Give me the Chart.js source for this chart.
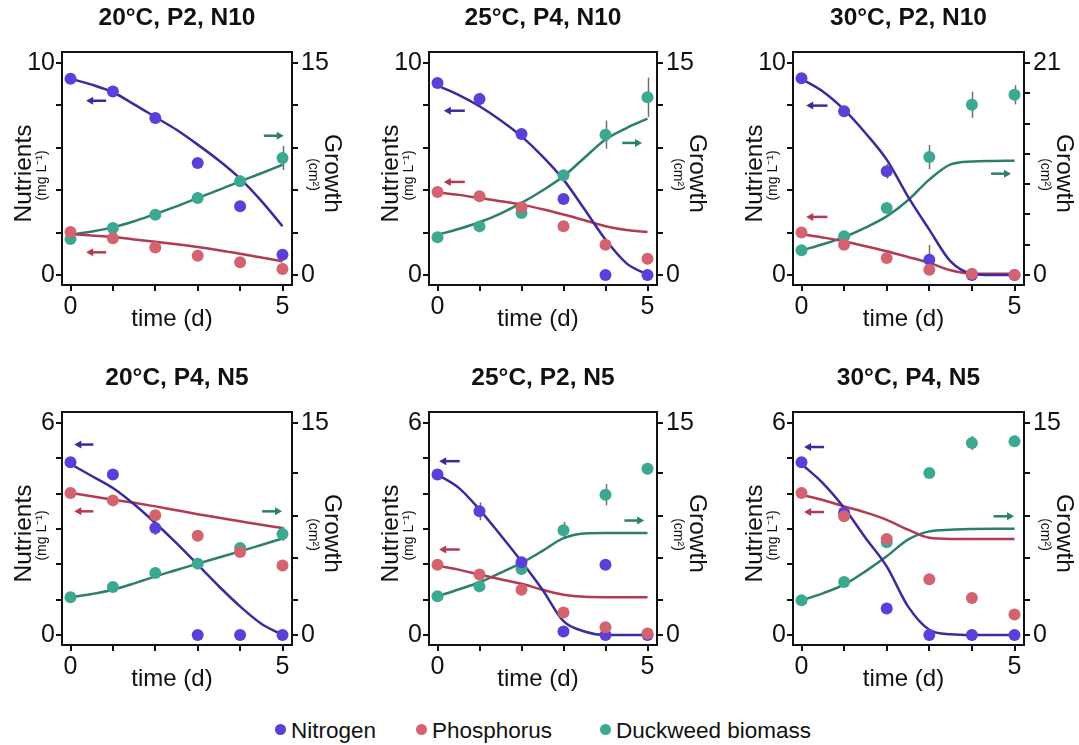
<!DOCTYPE html>
<html>
<head>
<meta charset="utf-8">
<script src="https://cdn.jsdelivr.net/npm/chart.js@4.4.1/dist/chart.umd.min.js"></script>
<style>
  body { margin: 0; background: #fff; width: 1079px; height: 745px; position: relative; overflow: hidden;
         font-family: "Liberation Sans", Arial, sans-serif; }
  .legend-item { position: absolute; top: 718px; font-size: 22.5px; line-height: 26px; color: #111; white-space: nowrap; }
  .legend-item i { display: inline-block; width: 11px; height: 11px; border-radius: 50%; margin-right: 5px; vertical-align: 3px; }
</style>
</head>
<body>
<div class="legend-item" style="left:275px"><i style="background:#5a3fd8"></i>Nitrogen</div>
<div class="legend-item" style="left:416px"><i style="background:#d3646f"></i>Phosphorus</div>
<div class="legend-item" style="left:600px"><i style="background:#3ba891"></i>Duckweed biomass</div>
<script>
// sampling days and fitted-curve days
const DAYS = [0, 1, 2, 3, 4, 5];
const FIT_DAYS = [0, 0.5, 1, 1.5, 2, 2.5, 3, 3.5, 4, 4.5, 5];

const TITLES = ['20°C, P2, N10', '25°C, P4, N10', '30°C, P2, N10',
                '20°C, P4, N5', '25°C, P2, N5', '30°C, P4, N5'];

// measured nutrients (mg/L), one row per panel
const nitrogen = [
  [9.26, 8.66, 7.41, 5.28, 3.24, 0.96],
  [9.06, 8.30, 6.65, 3.58, 0, 0],
  [9.28, 7.72, 4.89, 0.72, 0, 0],
  [4.89, 4.54, 3.03, 0, 0, 0],
  [4.54, 3.50, 2.06, 0.10, 0, 0],
  [4.89, 3.47, 0.75, 0, 0, 0]
];
const nitrogenErr = [
  [0, 0, 0, 0.15, 0, 0],
  [0, 0.3, 0, 0, 0, 0],
  [0, 0, 0.35, 0.7, 0, 0],
  [0, 0, 0.2, 0, 0, 0],
  [0, 0.25, 0, 0, 0, 0],
  [0, 0, 0, 0, 0, 0]
];
// extra replicate point [day, value]
const nitrogenExtra = [null, null, null, null, [4, 1.99], null];

const phosphorus = [
  [2.03, 1.73, 1.30, 0.91, 0.60, 0.28],
  [3.92, 3.71, 3.20, 2.30, 1.43, 0.77],
  [2.01, 1.43, 0.80, 0.25, 0.06, 0.0],
  [4.02, 3.81, 3.39, 2.81, 2.35, 1.97],
  [1.99, 1.71, 1.28, 0.64, 0.22, 0.04],
  [4.02, 3.36, 2.72, 1.58, 1.05, 0.58]
];
const phosphorusErr = [
  [0, 0, 0, 0, 0, 0],
  [0, 0, 0, 0, 0, 0],
  [0, 0, 0, 0.15, 0, 0],
  [0, 0, 0, 0, 0.1, 0.15],
  [0, 0, 0, 0, 0, 0],
  [0, 0, 0, 0, 0, 0]
];

// frond area (cm2)
const biomass = [
  [2.55, 3.33, 4.27, 5.45, 6.63, 8.28],
  [2.67, 3.44, 4.39, 7.05, 9.93, 12.57],
  [2.44, 3.83, 6.63, 11.68, 16.86, 17.85],
  [2.67, 3.40, 4.39, 5.05, 6.16, 7.15],
  [2.74, 3.44, 4.67, 7.41, 9.93, 11.77],
  [2.45, 3.75, 6.56, 11.46, 13.58, 13.70]
];
const biomassErr = [
  [0, 0, 0, 0.25, 0.4, 0.85],
  [0, 0, 0, 0, 1.0, 1.4],
  [0, 0, 0, 1.2, 1.3, 0.95],
  [0, 0, 0, 0, 0.4, 0.5],
  [0, 0, 0, 0.6, 0.75, 0.4],
  [0, 0, 0.3, 0, 0.5, 0.4]
];

// model fits, sampled on FIT_DAYS
const nitrogenFit = [
  [9.26, 8.98, 8.62, 8.05, 7.45, 6.85, 6.15, 5.40, 4.55, 3.50, 2.30],
  [8.93, 8.50, 7.96, 7.30, 6.54, 5.60, 4.50, 3.10, 1.67, 0.55, 0.02],
  [9.25, 8.66, 7.80, 6.70, 5.44, 3.70, 2.14, 0.64, 0.06, 0, 0],
  [4.84, 4.50, 4.16, 3.70, 3.17, 2.60, 1.99, 1.38, 0.81, 0.32, 0],
  [4.54, 4.17, 3.55, 2.83, 2.08, 1.28, 0.39, 0.10, 0, 0, 0],
  [4.84, 4.30, 3.60, 2.75, 1.94, 0.81, 0.15, 0.02, 0, 0, 0]
];
const phosphorusFit = [
  [1.93, 1.86, 1.79, 1.68, 1.57, 1.45, 1.32, 1.17, 1.00, 0.83, 0.64],
  [3.90, 3.78, 3.63, 3.48, 3.32, 3.10, 2.85, 2.58, 2.30, 2.12, 2.03],
  [1.93, 1.77, 1.59, 1.36, 1.12, 0.85, 0.57, 0.22, 0.06, 0.06, 0.06],
  [4.02, 3.93, 3.83, 3.74, 3.64, 3.53, 3.42, 3.32, 3.22, 3.12, 3.03],
  [1.96, 1.85, 1.71, 1.58, 1.45, 1.28, 1.14, 1.08, 1.07, 1.07, 1.07],
  [3.97, 3.82, 3.64, 3.47, 3.26, 2.98, 2.75, 2.72, 2.72, 2.72, 2.72]
];
const biomassFit = [
  [2.85, 3.08, 3.37, 3.80, 4.32, 4.85, 5.45, 6.02, 6.63, 7.20, 7.80],
  [2.85, 3.25, 3.73, 4.35, 5.10, 5.98, 6.98, 8.30, 9.58, 10.40, 11.06],
  [2.44, 3.05, 3.76, 4.70, 5.81, 7.40, 9.45, 10.95, 11.25, 11.30, 11.32],
  [2.67, 2.90, 3.20, 3.65, 4.15, 4.60, 5.05, 5.48, 5.92, 6.37, 6.82],
  [2.74, 3.22, 3.73, 4.40, 5.10, 5.95, 6.85, 7.19, 7.22, 7.22, 7.22],
  [2.45, 2.95, 3.56, 4.50, 5.57, 6.75, 7.33, 7.45, 7.50, 7.52, 7.52]
];

// axis ranges and tick values
const NUTRIENT_MAX = [10, 10, 10, 6, 6, 6];
const GROWTH_MAX = [15, 15, 21, 15, 15, 15];
const NUTRIENT_TICKS = [
  [0, 2, 4, 6, 8, 10], [0, 2, 4, 6, 8, 10], [0, 2, 4, 6, 8, 10],
  [0, 1, 2, 3, 4, 5, 6], [0, 1, 2, 3, 4, 5, 6], [0, 1, 2, 3, 4, 5, 6]
];
const GROWTH_TICKS = [
  [0, 3, 6, 9, 12, 15], [0, 3, 6, 9, 12, 15], [0, 3, 6, 9, 12, 15, 18, 21],
  [0, 2.45, 5.45, 8.45, 11.45, 15], [0, 2.45, 5.45, 8.45, 11.45, 15], [0, 2.45, 5.45, 8.45, 11.45, 15]
];

// direction arrows: [fromDay, toDay, nutrient-axis value], head at toDay
const ARROWS_N = [[0.84, 0.37, 8.22], [0.65, 0.15, 7.75], [0.61, 0.11, 7.99], [0.54, 0.09, 5.39], [0.53, 0.04, 4.92], [0.53, 0.06, 5.32]];
const ARROWS_P = [[0.84, 0.37, 1.07], [0.65, 0.15, 4.39], [0.61, 0.11, 2.74], [0.54, 0.09, 3.50], [0.53, 0.04, 2.42], [0.53, 0.06, 3.48]];
const ARROWS_D = [[4.56, 5.03, 6.57], [4.40, 4.87, 6.23], [4.45, 4.92, 4.78], [4.52, 4.99, 3.50], [4.45, 4.92, 3.24], [4.51, 4.99, 3.36]];

const COLORS = {
  n: { dot: '#5a3fd8', line: '#3b2b9b' },
  p: { dot: '#d3646f', line: '#b23a52' },
  d: { dot: '#3ba891', line: '#2b7f6b' }
};
const FONT = '"Liberation Sans", Arial, sans-serif';

// plot frames in page pixels
const FRAME_X = [[62, 292], [429, 657], [793, 1024]];
const FRAME_Y = [[52, 285], [412, 645]];

// axis min/max so the data range sits inside the frame with a small inset
function padRange(lo, hi, px, padLo, padHi) {
  const u = (hi - lo) / (px - padLo - padHi);
  return { min: lo - padLo * u, max: hi + padHi * u };
}

function pts(xs, ys) { return xs.map((x, i) => ({ x, y: ys[i] })); }

const decor = {
  id: 'decor',
  beforeDatasetsDraw(chart) {
    const ctx = chart.ctx, xs = chart.scales.x;
    ctx.save();
    ctx.strokeStyle = '#707070';
    ctx.lineWidth = 1.5;
    chart.data.datasets.forEach(ds => {
      if (!ds.errors) return;
      const ys = chart.scales[ds.yAxisID];
      ds.data.forEach((p, j) => {
        const e = ds.errors[j];
        if (!e) return;
        const px = Math.round(xs.getPixelForValue(p.x)) + 0.5;
        ctx.beginPath();
        ctx.moveTo(px, ys.getPixelForValue(p.y + e));
        ctx.lineTo(px, ys.getPixelForValue(p.y - e));
        ctx.stroke();
      });
    });
    ctx.restore();
  },
  afterDraw(chart) {
    const ctx = chart.ctx, a = chart.chartArea, o = chart.options.decor;
    const xs = chart.scales.x, ys = chart.scales.y;
    ctx.save();
    // frame
    ctx.strokeStyle = '#111';
    ctx.lineWidth = 2;
    ctx.strokeRect(a.left, a.top, a.width, a.height);

    // arrows
    o.arrows.forEach(([from, to, y, color]) => {
      const x0 = xs.getPixelForValue(from), x1 = xs.getPixelForValue(to), py = ys.getPixelForValue(y);
      const dir = Math.sign(x1 - x0);
      ctx.strokeStyle = color;
      ctx.fillStyle = color;
      ctx.lineWidth = 2.5;
      ctx.beginPath();
      ctx.moveTo(x0, py);
      ctx.lineTo(x1 - dir * 5, py);
      ctx.stroke();
      ctx.beginPath();
      ctx.moveTo(x1, py);
      ctx.lineTo(x1 - dir * 7, py - 4);
      ctx.lineTo(x1 - dir * 7, py + 4);
      ctx.closePath();
      ctx.fill();
    });

    const cx = (a.left + a.right) / 2, cy = (a.top + a.bottom) / 2;
    ctx.fillStyle = '#111';
    ctx.textAlign = 'center';
    ctx.textBaseline = 'middle';

    ctx.font = 'bold 24.5px ' + FONT;
    ctx.fillText(o.title, cx, a.top - 34);

    ctx.font = '24px ' + FONT;
    ctx.fillText('time (d)', cx - 5, a.bottom + 34);

    // left axis title
    ctx.save();
    ctx.translate(a.left - 38, cy + 5);
    ctx.rotate(-Math.PI / 2);
    ctx.font = '24.5px ' + FONT;
    ctx.fillText('Nutrients', 0, 0);
    ctx.restore();
    ctx.save();
    ctx.translate(a.left - 20, cy + 7);
    ctx.rotate(-Math.PI / 2);
    ctx.font = '14px ' + FONT;
    ctx.fillText('(mg L\u207B\u00B9)', 0, 0);
    ctx.restore();

    // right axis title
    ctx.save();
    ctx.translate(a.right + 40, cy + 5);
    ctx.rotate(Math.PI / 2);
    ctx.font = '24.5px ' + FONT;
    ctx.fillText('Growth', 0, 0);
    ctx.restore();
    ctx.save();
    ctx.translate(a.right + 21, cy + 6);
    ctx.rotate(Math.PI / 2);
    ctx.font = '14px ' + FONT;
    ctx.fillText('(cm\u00B2)', 0, 0);
    ctx.restore();

    ctx.restore();
  }
};

const edgeLabel = (lo, hi) => v => (v === lo || v === hi) ? String(v) : '';

TITLES.forEach((title, k) => {
  const col = k % 3, row = Math.floor(k / 3);
  const [fl, fr] = FRAME_X[col], [ft, fb] = FRAME_Y[row];
  const left = fl - 62, top = ft - 52;
  const w = Math.min(360, 1079 - left), h = 340;

  const canvas = document.createElement('canvas');
  canvas.width = w;
  canvas.height = h;
  canvas.style.cssText = `position:absolute;left:${left}px;top:${top}px;width:${w}px;height:${h}px`;
  document.body.appendChild(canvas);

  const xr = padRange(0, 5, fr - fl, 8.5, 9.5);
  const yr = padRange(0, NUTRIENT_MAX[k], fb - ft, 10, 11);
  const gr = padRange(0, GROWTH_MAX[k], fb - ft, 10, 11);

  const nPts = pts(DAYS, nitrogen[k]);
  const nErr = nitrogenErr[k].slice();
  if (nitrogenExtra[k]) {
    nPts.push({ x: nitrogenExtra[k][0], y: nitrogenExtra[k][1] });
    nErr.push(0);
  }

  const dot = (data, c, axis, errors, order) => ({
    data, yAxisID: axis, errors, order,
    pointRadius: 6, pointBackgroundColor: c, pointBorderWidth: 0, showLine: false
  });
  const fit = (ys, c, axis, order) => ({
    data: pts(FIT_DAYS, ys), yAxisID: axis, order,
    showLine: true, borderColor: c, borderWidth: 2.5, pointRadius: 0,
    cubicInterpolationMode: 'monotone'
  });

  const tickFont = { family: FONT, size: 25 };
  const axisGrid = { drawOnChartArea: false, drawTicks: true, tickLength: 6, color: '#111', lineWidth: 2 };

  new Chart(canvas, {
    type: 'scatter',
    data: {
      datasets: [
        fit(biomassFit[k], COLORS.d.line, 'y2', 5),
        fit(phosphorusFit[k], COLORS.p.line, 'y', 4),
        fit(nitrogenFit[k], COLORS.n.line, 'y', 3),
        dot(pts(DAYS, biomass[k]), COLORS.d.dot, 'y2', biomassErr[k], 2),
        dot(nPts, COLORS.n.dot, 'y', nErr, 1),
        dot(pts(DAYS, phosphorus[k]), COLORS.p.dot, 'y', phosphorusErr[k], 0)
      ]
    },
    options: {
      responsive: false,
      devicePixelRatio: 1,
      animation: false,
      events: [],
      layout: { padding: { top: ft - top, left: 0, right: 0, bottom: 0 } },
      plugins: { legend: { display: false }, tooltip: { enabled: false } },
      decor: {
        title,
        arrows: [
          [...ARROWS_N[k], COLORS.n.line],
          [...ARROWS_P[k], COLORS.p.line],
          [...ARROWS_D[k], COLORS.d.line]
        ]
      },
      scales: {
        x: {
          type: 'linear', min: xr.min, max: xr.max,
          afterFit: s => { s.height = h - (fb - top); },
          afterBuildTicks: s => { s.ticks = DAYS.map(v => ({ value: v })); },
          ticks: { callback: edgeLabel(0, 5), font: tickFont, color: '#111', padding: 1, autoSkip: false, maxRotation: 0 },
          grid: axisGrid,
          border: { display: false }
        },
        y: {
          type: 'linear', position: 'left', min: yr.min, max: yr.max,
          afterFit: s => { s.width = fl - left; },
          afterBuildTicks: s => { s.ticks = NUTRIENT_TICKS[k].map(v => ({ value: v })); },
          ticks: { callback: edgeLabel(0, NUTRIENT_MAX[k]), font: tickFont, color: '#111', padding: 1, autoSkip: false },
          grid: axisGrid,
          border: { display: false }
        },
        y2: {
          type: 'linear', position: 'right', min: gr.min, max: gr.max,
          afterFit: s => { s.width = w - (fr - left); },
          afterBuildTicks: s => { s.ticks = GROWTH_TICKS[k].map(v => ({ value: v })); },
          ticks: { callback: edgeLabel(0, GROWTH_MAX[k]), font: tickFont, color: '#111', padding: 3, autoSkip: false },
          grid: axisGrid,
          border: { display: false }
        }
      }
    },
    plugins: [decor]
  });
});
</script>
</body>
</html>
